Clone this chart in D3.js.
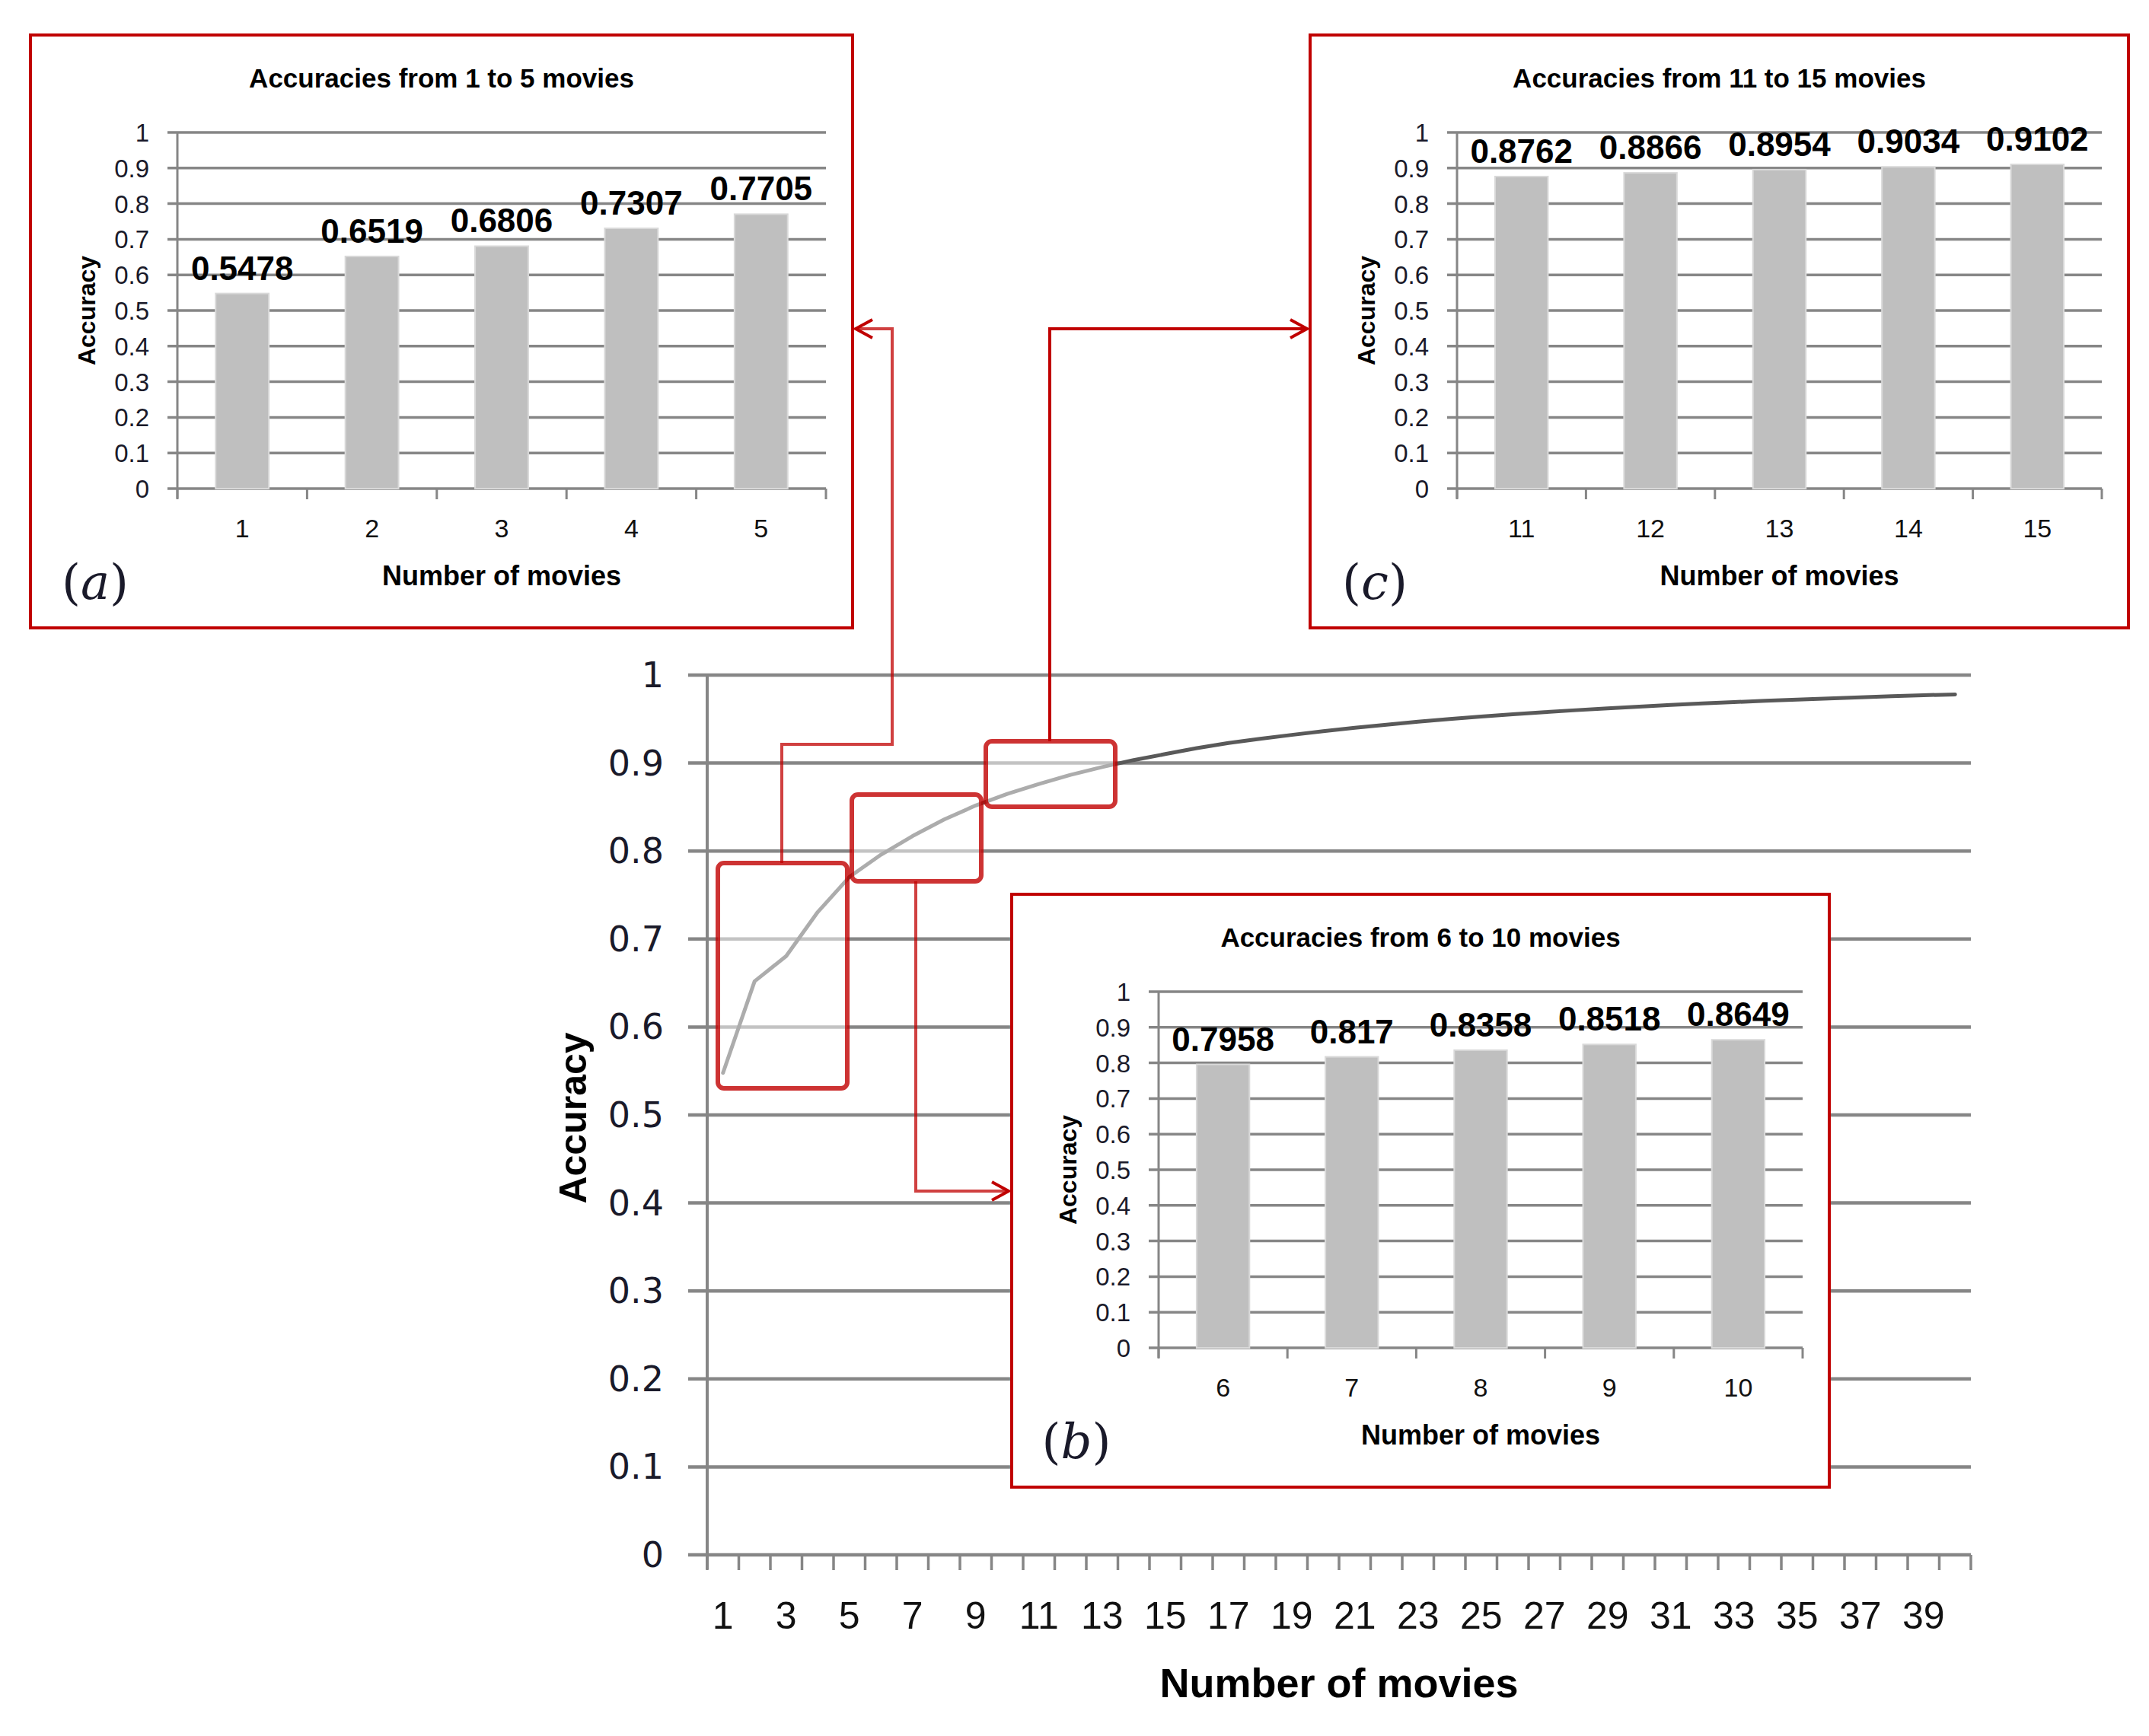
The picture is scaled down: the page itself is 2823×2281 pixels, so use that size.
<!DOCTYPE html>
<html>
<head>
<meta charset="utf-8">
<script src="https://cdn.jsdelivr.net/npm/d3@7"></script>
<style>
  html, body { margin: 0; padding: 0; background: #ffffff; }
  svg { display: block; }
</style>
</head>
<body>
<svg id="chart" width="2823" height="2281"></svg>
<script>
// ---------------- DATA ----------------
const mainCategories = [1,2,3,4,5,6,7,8,9,10,11,12,13,14,15,16,17,18,19,20,
                        21,22,23,24,25,26,27,28,29,30,31,32,33,34,35,36,37,38,39,40];
const mainValues = [0.5478,0.6519,0.6806,0.7307,0.7705,0.7958,0.817,0.8358,0.8518,0.8649,
                    0.8762,0.8866,0.8954,0.9034,0.9102,0.9170,0.9228,0.9275,0.9320,0.9362,
                    0.9400,0.9436,0.9470,0.9500,0.9528,0.9554,0.9578,0.9601,0.9622,0.9642,
                    0.9660,0.9677,0.9693,0.9708,0.9722,0.9735,0.9748,0.9760,0.9771,0.9780];
const mainYTicks = [0,0.1,0.2,0.3,0.4,0.5,0.6,0.7,0.8,0.9,1];
const mainXTickLabels = [1,3,5,7,9,11,13,15,17,19,21,23,25,27,29,31,33,35,37,39];

const panelACategories = [1,2,3,4,5];
const panelAValues = [0.5478,0.6519,0.6806,0.7307,0.7705];
const panelBCategories = [6,7,8,9,10];
const panelBValues = [0.7958,0.817,0.8358,0.8518,0.8649];
const panelCCategories = [11,12,13,14,15];
const panelCValues = [0.8762,0.8866,0.8954,0.9034,0.9102];
const panelYTicks = [0,0.1,0.2,0.3,0.4,0.5,0.6,0.7,0.8,0.9,1];

const panelTitles = ["Accuracies from 1 to 5 movies","Accuracies from 6 to 10 movies","Accuracies from 11 to 15 movies"];
const panelLetters = ["a","b","c"];
// --------------------------------------

const svg = d3.select("#chart");
svg.append("rect").attr("width",2823).attr("height",2281).attr("fill","#fff");

const RED = "#c00000";
const GRID = "#868686";
const SANS = "'Liberation Sans', Arial, sans-serif";

// ---------- MAIN CHART ----------
const M = {left: 929, right: 2589, top: 887, bottom: 2043};
const x = d3.scaleBand().domain(mainCategories).range([M.left, M.right]).padding(0);
const y = d3.scaleLinear().domain([0,1]).range([M.bottom, M.top]);

const gMain = svg.append("g");
// gridlines
gMain.selectAll("line.grid").data(mainYTicks).join("line")
  .attr("x1", M.left - 25).attr("x2", M.right)
  .attr("y1", d => y(d)).attr("y2", d => y(d))
  .attr("stroke", GRID).attr("stroke-width", 4.5);
// y axis line
gMain.append("line").attr("x1", M.left).attr("x2", M.left)
  .attr("y1", M.top).attr("y2", M.bottom + 19)
  .attr("stroke", GRID).attr("stroke-width", 4);
// y tick labels
gMain.selectAll("text.ytick").data(mainYTicks).join("text")
  .attr("x", 872).attr("y", d => y(d) + 16)
  .attr("text-anchor", "end")
  .attr("font-family", "'DejaVu Sans', Verdana, sans-serif")
  .attr("font-size", 46).attr("fill", "#1a1a2a")
  .text(d => d3.format("~g")(d));
// x ticks at category boundaries
const xBounds = mainCategories.map(c => x(c)).concat([M.right]);
gMain.selectAll("line.xtick").data(xBounds).join("line")
  .attr("x1", d => d).attr("x2", d => d)
  .attr("y1", M.bottom).attr("y2", M.bottom + 20)
  .attr("stroke", GRID).attr("stroke-width", 3.5);
// x tick labels
gMain.selectAll("text.xtick").data(mainXTickLabels).join("text")
  .attr("x", d => x(d) + x.bandwidth()/2).attr("y", 2140)
  .attr("text-anchor", "middle")
  .attr("font-family", SANS).attr("font-size", 50).attr("fill", "#111")
  .text(d => d);
// axis titles
gMain.append("text").attr("x", 1759).attr("y", 2230)
  .attr("text-anchor", "middle").attr("font-family", SANS)
  .attr("font-weight", "bold").attr("font-size", 54).attr("fill", "#000")
  .text("Number of movies");
gMain.append("text")
  .attr("transform", "translate(770,1469) rotate(-90)")
  .attr("text-anchor", "middle").attr("font-family", SANS)
  .attr("font-weight", "bold").attr("font-size", 50).attr("fill", "#000")
  .text("Accuracy");
// line
const lineGen = d3.line()
  .x((d,i) => x(mainCategories[i]) + x.bandwidth()/2)
  .y(d => y(d));
gMain.append("path").datum(mainValues)
  .attr("d", lineGen).attr("fill", "none")
  .attr("stroke", "#595959").attr("stroke-width", 5)
  .attr("stroke-linejoin", "round").attr("stroke-linecap", "round");

// ---------- ZOOM BOXES ON MAIN CHART ----------
const zoomBoxes = [
  {x1: 943, x2: 1113, y1: 1134, y2: 1430},
  {x1: 1119, x2: 1289, y1: 1044, y2: 1158},
  {x1: 1295, x2: 1465, y1: 974, y2: 1060}
];
svg.selectAll("rect.zoombox").data(zoomBoxes).join("rect")
  .attr("x", d => d.x1).attr("y", d => d.y1)
  .attr("width", d => d.x2 - d.x1).attr("height", d => d.y2 - d.y1)
  .attr("rx", 8).attr("ry", 8)
  .attr("fill", "rgba(255,255,255,0.5)")
  .attr("stroke", RED).attr("stroke-opacity", 0.8).attr("stroke-width", 6);

// connectors
function arrowHead(g, tipX, tipY, dir) {
  // dir: +1 pointing right, -1 pointing left
  const L = 22, H = 12;
  g.append("path")
    .attr("d", `M${tipX - dir*L},${tipY - H} L${tipX},${tipY} L${tipX - dir*L},${tipY + H}`)
    .attr("fill", "none").attr("stroke", RED).attr("stroke-width", 4);
}
const gConn = svg.append("g");
// box (a) -> panel (a)
gConn.append("path")
  .attr("d", "M1027,1134 L1027,978 L1172,978 L1172,432 L1124,432")
  .attr("fill", "none").attr("stroke", RED).attr("stroke-opacity", 0.75).attr("stroke-width", 4);
arrowHead(gConn, 1124, 432, -1);
// box (c) -> panel (c)
gConn.append("path")
  .attr("d", "M1379,974 L1379,432 L1717,432")
  .attr("fill", "none").attr("stroke", RED).attr("stroke-width", 4);
arrowHead(gConn, 1717, 432, 1);
// box (b) -> panel (b)
gConn.append("path")
  .attr("d", "M1203,1158 L1203,1565 L1325,1565")
  .attr("fill", "none").attr("stroke", RED).attr("stroke-opacity", 0.75).attr("stroke-width", 4);
arrowHead(gConn, 1325, 1565, 1);

// ---------- INSET PANELS ----------
function drawPanel(box, cats, vals, title, letter) {
  const g = svg.append("g");
  g.append("rect").attr("x", box.x).attr("y", box.y)
    .attr("width", box.w).attr("height", box.h)
    .attr("fill", "#fff").attr("stroke", RED).attr("stroke-width", 4);
  const P = {left: box.x + 193, right: box.x + box.w - 35, top: box.y + 128, bottom: box.y + box.h - 183};
  const px = d3.scaleBand().domain(cats).range([P.left, P.right]).padding(0);
  const py = d3.scaleLinear().domain([0,1]).range([P.bottom, P.top]);
  // title
  g.append("text").attr("x", box.x + box.w/2).attr("y", box.y + 69)
    .attr("text-anchor", "middle").attr("font-family", SANS)
    .attr("font-weight", "bold").attr("font-size", 35).attr("fill", "#000")
    .text(title);
  // grid
  g.selectAll("line.grid").data(panelYTicks).join("line")
    .attr("x1", P.left - 13).attr("x2", P.right)
    .attr("y1", d => py(d)).attr("y2", d => py(d))
    .attr("stroke", GRID).attr("stroke-width", 3.5);
  g.append("line").attr("x1", P.left).attr("x2", P.left)
    .attr("y1", P.top).attr("y2", P.bottom + 13)
    .attr("stroke", GRID).attr("stroke-width", 3);
  // y tick labels
  g.selectAll("text.ytick").data(panelYTicks).join("text")
    .attr("x", P.left - 37).attr("y", d => py(d) + 12)
    .attr("text-anchor", "end").attr("font-family", SANS)
    .attr("font-size", 33).attr("fill", "#1a1a2a")
    .text(d => d3.format("~g")(d));
  // x ticks
  const bounds = cats.map(c => px(c)).concat([P.right]);
  g.selectAll("line.xtick").data(bounds).join("line")
    .attr("x1", d => d).attr("x2", d => d)
    .attr("y1", P.bottom).attr("y2", P.bottom + 14)
    .attr("stroke", GRID).attr("stroke-width", 3);
  g.selectAll("text.xtick").data(cats).join("text")
    .attr("x", d => px(d) + px.bandwidth()/2).attr("y", P.bottom + 64)
    .attr("text-anchor", "middle").attr("font-family", SANS)
    .attr("font-size", 34).attr("fill", "#111")
    .text(d => d);
  // bars
  const bw = px.bandwidth() * 0.41;
  g.selectAll("rect.bar").data(vals).join("rect")
    .attr("x", (d,i) => px(cats[i]) + (px.bandwidth() - bw)/2)
    .attr("y", d => py(d))
    .attr("width", bw).attr("height", d => P.bottom - py(d))
    .attr("fill", "#bfbfbf").attr("stroke", "#d9d9d9").attr("stroke-width", 2);
  // value labels
  g.selectAll("text.val").data(vals).join("text")
    .attr("x", (d,i) => px(cats[i]) + px.bandwidth()/2)
    .attr("y", d => py(d) - 18)
    .attr("text-anchor", "middle").attr("font-family", SANS)
    .attr("font-weight", "bold").attr("font-size", 44).attr("fill", "#000")
    .text(d => String(d));
  // axis titles
  g.append("text")
    .attr("transform", `translate(${box.x + 85},${(P.top + P.bottom)/2}) rotate(-90)`)
    .attr("text-anchor", "middle").attr("font-family", SANS)
    .attr("font-weight", "bold").attr("font-size", 32).attr("fill", "#000")
    .text("Accuracy");
  g.append("text").attr("x", (P.left + P.right)/2).attr("y", P.bottom + 127)
    .attr("text-anchor", "middle").attr("font-family", SANS)
    .attr("font-weight", "bold").attr("font-size", 36).attr("fill", "#000")
    .text("Number of movies");
  // letter label
  const t = g.append("text").attr("x", box.x + 85).attr("y", box.y + box.h - 38)
    .attr("text-anchor", "middle").attr("font-family", "'DejaVu Serif', 'Liberation Serif', serif")
    .attr("font-size", 64).attr("fill", "#1a1a2a");
  t.append("tspan").text("(");
  t.append("tspan").attr("font-style", "italic").text(letter);
  t.append("tspan").text(")");
}

drawPanel({x: 40, y: 46, w: 1080, h: 779}, panelACategories, panelAValues, panelTitles[0], panelLetters[0]);
drawPanel({x: 1721, y: 46, w: 1075, h: 779}, panelCCategories, panelCValues, panelTitles[2], panelLetters[2]);
drawPanel({x: 1329, y: 1175, w: 1074, h: 779}, panelBCategories, panelBValues, panelTitles[1], panelLetters[1]);
</script>
</body>
</html>
